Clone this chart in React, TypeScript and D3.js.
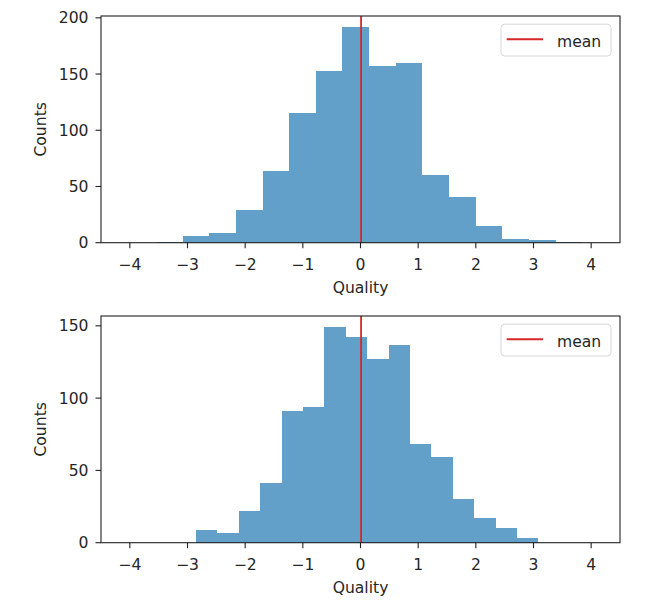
import React from "react";
import * as d3 from "d3";

// ---- data ----
const topEdges = [-3.548, -3.086, -2.624, -2.161, -1.699, -1.237, -0.775, -0.313, 0.15, 0.612, 1.074, 1.536, 1.998, 2.461, 2.923, 3.385, 3.847];
const topCounts = [1, 6, 9, 29, 64, 115, 153, 192, 157, 160, 60, 41, 15, 3, 2, 1];
const topMean = 0.01;
const topYMax = 201.6;
const topYTicks = [0, 50, 100, 150, 200];

const bottomEdges = [-2.854, -2.483, -2.112, -1.74, -1.369, -0.998, -0.627, -0.256, 0.116, 0.487, 0.858, 1.229, 1.6, 1.972, 2.343, 2.714, 3.085];
const bottomCounts = [9, 7, 22, 41, 91, 94, 149, 142, 127, 137, 68, 59, 30, 17, 10, 3];
const bottomMean = 0.01;
const bottomYMax = 156.8;
const bottomYTicks = [0, 50, 100, 150];

const xDomain = [-4.5, 4.5];
const xTicks = [-4, -3, -2, -1, 0, 1, 2, 3, 4];
const xLabel = "Quality";
const yLabel = "Counts";
const legendLabel = "mean";

// ---- styling ----
const W = 647;
const H = 609;
const LEFT = 101;
const RIGHT = 620;
const FONT = "DejaVu Sans";
const FS = 15.6;
const TXT = "#262626";
const BAR = "#1f77b4";
const RED = "#d62728";

const fmt = (v: number) => (v < 0 ? "\u2212" + Math.abs(v) : String(v));

function T({ x, y, anchor = "middle", rotate = 0, children, size = FS }: any) {
  return (
    <text
      transform={`translate(${x},${y}) rotate(${rotate})`}
      textAnchor={anchor}
      fontFamily={FONT}
      fontSize={size}
      fill={TXT}
    >
      {children}
    </text>
  );
}

function Panel({ top, bottom, edges, counts, yMax, yTicks, mean }: any) {
  const x = d3.scaleLinear().domain(xDomain).range([LEFT, RIGHT]);
  const y = d3.scaleLinear().domain([0, yMax]).range([bottom, top]);
  const bins = counts.map((c: number, i: number) => ({ x0: edges[i], x1: edges[i + 1], c }));
  const mid = (top + bottom) / 2;
  return (
    <g>
      {bins.map((b: any, i: number) => (
        <rect
          key={i}
          x={x(b.x0)}
          y={y(b.c)}
          width={x(b.x1) - x(b.x0)}
          height={y(0) - y(b.c)}
          fill={BAR}
          fillOpacity={0.7}
          shapeRendering="crispEdges"
        />
      ))}
      <line x1={x(mean)} x2={x(mean)} y1={top} y2={bottom} stroke={RED} strokeWidth={1.8} />
      <rect x={LEFT} y={top} width={RIGHT - LEFT} height={bottom - top} fill="none" stroke="#222" strokeWidth={1.1} />
      {xTicks.map((t) => (
        <g key={t}>
          <line x1={x(t)} x2={x(t)} y1={bottom} y2={bottom + 5.5} stroke="#222" strokeWidth={1.1} />
          <T x={x(t)} y={bottom + 26.8}>{fmt(t)}</T>
        </g>
      ))}
      {yTicks.map((t: number) => (
        <g key={t}>
          <line x1={LEFT - 5.5} x2={LEFT} y1={y(t)} y2={y(t)} stroke="#222" strokeWidth={1.1} />
          <T x={LEFT - 12.5} y={y(t) + 5.6} anchor="end">{fmt(t)}</T>
        </g>
      ))}
      <T x={(LEFT + RIGHT) / 2} y={bottom + 50.3}>{xLabel}</T>
      <T x={45.5} y={mid} rotate={-90}>{yLabel}</T>
      <g>
        <rect x={501} y={top + 8.2} width={110} height={31.8} rx={3.5} fill="white" fillOpacity={0.8} stroke="#d6d6d6" strokeWidth={1} />
        <line x1={506.7} x2={543} y1={top + 23.2} y2={top + 23.2} stroke={RED} strokeWidth={2} />
        <T x={557} y={top + 30.5} anchor="start">{legendLabel}</T>
      </g>
    </g>
  );
}

export default function App() {
  return (
    <svg
      width={W}
      height={H}
      viewBox={`0 0 ${W} ${H}`}
      style={{ position: "absolute", left: 0, top: 0, background: "white" }}
    >
      <rect x={0} y={0} width={W} height={H} fill="white" />
      <Panel top={16} bottom={242.7} edges={topEdges} counts={topCounts} yMax={topYMax} yTicks={topYTicks} mean={topMean} />
      <Panel top={316} bottom={542.7} edges={bottomEdges} counts={bottomCounts} yMax={bottomYMax} yTicks={bottomYTicks} mean={bottomMean} />
    </svg>
  );
}
